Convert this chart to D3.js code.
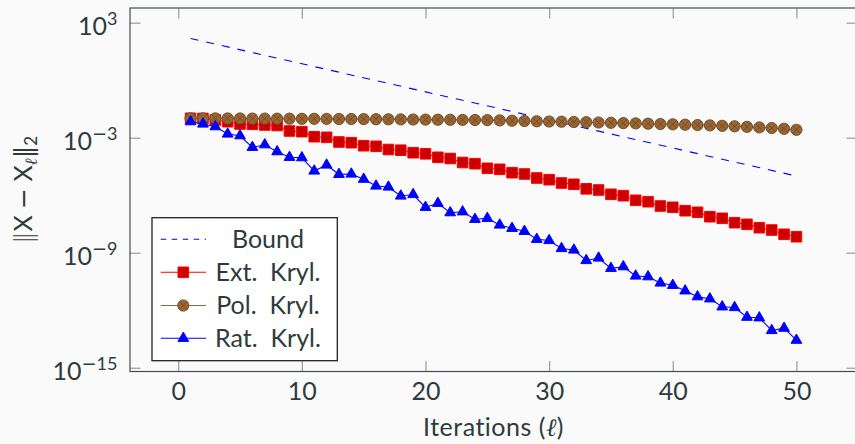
<!DOCTYPE html>
<html><head><meta charset="utf-8">
<script src="https://cdn.jsdelivr.net/npm/d3@7"></script>
<style>
html,body{margin:0;padding:0;background:#fafafa;}
svg{display:block;}
text{font-family:Lato,"Noto Sans",sans-serif;fill:#2e3b3b;}
</style></head><body>
<svg id="chart" width="855" height="444"></svg>
<script>
const iterations = [1,2,3,4,5,6,7,8,9,10,11,12,13,14,15,16,17,18,19,20,21,22,23,24,25,
  26,27,28,29,30,31,32,33,34,35,36,37,38,39,40,41,42,43,44,45,46,47,48,49,50];
const extKryl = [1.03e-2,1.01e-2,8.40e-3,6.85e-3,5.19e-3,5.01e-3,4.61e-3,4.34e-3,2.24e-3,2.06e-3,
  1.13e-3,1.05e-3,5.98e-4,5.50e-4,3.83e-4,3.57e-4,2.43e-4,2.23e-4,1.65e-4,1.45e-4,
  9.52e-5,8.24e-5,5.10e-5,4.41e-5,2.54e-5,2.25e-5,1.50e-5,1.28e-5,7.92e-6,6.46e-6,
  4.34e-6,3.72e-6,2.16e-6,1.87e-6,1.12e-6,9.45e-7,5.44e-7,4.60e-7,2.74e-7,2.35e-7,
  1.56e-7,1.29e-7,7.59e-8,6.26e-8,3.69e-8,3.04e-8,2.02e-8,1.53e-8,9.16e-9,6.86e-9];
const polKryl = [1.03e-2,1.02e-2,1.02e-2,1.01e-2,1.01e-2,9.94e-3,9.94e-3,9.82e-3,9.82e-3,9.70e-3,
  9.70e-3,9.59e-3,9.47e-3,9.47e-3,9.36e-3,9.25e-3,9.14e-3,9.03e-3,8.92e-3,8.81e-3,
  8.71e-3,8.60e-3,8.50e-3,8.40e-3,8.30e-3,8.01e-3,7.73e-3,7.45e-3,7.19e-3,7.02e-3,
  6.85e-3,6.61e-3,6.45e-3,6.22e-3,6.00e-3,5.79e-3,5.58e-3,5.38e-3,5.19e-3,5.01e-3,
  4.78e-3,4.61e-3,4.39e-3,4.18e-3,3.94e-3,3.71e-3,3.45e-3,3.21e-3,2.92e-3,2.59e-3];
const ratKryl = [6.85e-3,5.19e-3,3.76e-3,1.56e-3,1.27e-3,3.16e-4,4.32e-4,1.87e-4,9.52e-5,9.07e-5,
  1.84e-5,3.77e-5,1.23e-5,1.28e-5,6.86e-6,3.03e-6,2.69e-6,9.12e-7,1.09e-6,2.35e-7,
  3.79e-7,1.23e-7,1.37e-7,5.55e-8,6.26e-8,2.80e-8,1.88e-8,1.31e-8,5.02e-9,4.35e-9,
  1.66e-9,1.39e-9,3.94e-10,5.31e-10,1.54e-10,1.87e-10,6.12e-11,5.62e-11,2.64e-11,2.00e-11,
  1.03e-11,5.09e-12,3.96e-12,1.51e-12,1.39e-12,4.34e-13,4.04e-13,8.78e-14,1.16e-13,2.74e-14];
const boundIter = [1, 50];
const boundVals = [1.5e2, 1.0e-5];
const xTickValues = [0,10,20,30,40,50];
const yTickValues = [1e3,1e-3,1e-9,1e-15];
const yTickExponents = ["3","-3","-9","-15"];
const legendNames = ["Bound","Ext.\u00a0 Kryl.","Pol.\u00a0 Kryl.","Rat.\u00a0 Kryl."];

const svg = d3.select("#chart");
const L = 130, R = 857, T = 8, B = 371.5;
const x = d3.scaleLinear().domain([-3.9, 54.9]).range([L, R]);
const y = d3.scaleLog().domain([Math.pow(10,-15.195), Math.pow(10,3.767)]).range([B, T]);

const tickColor = "#a3a3a3", frameColor = "#414c4c";

const gB = svg.append("g").attr("transform",`translate(0,${B})`)
  .call(d3.axisBottom(x).tickValues(xTickValues).tickSize(-10.5).tickPadding(10).tickFormat(d3.format("d")));
const gT = svg.append("g").attr("transform",`translate(0,${T})`)
  .call(d3.axisTop(x).tickValues(xTickValues).tickSize(-10.5).tickFormat(""));
const gL = svg.append("g").attr("transform",`translate(${L},0)`)
  .call(d3.axisLeft(y).tickValues(yTickValues).tickSize(-10.5).tickPadding(12.5));
const gR = svg.append("g").attr("transform",`translate(${R},0)`)
  .call(d3.axisRight(y).tickValues(yTickValues).tickSize(-10.5).tickFormat(""));
[gB,gT,gL,gR].forEach(g=>{
  g.select(".domain").remove();
  g.selectAll(".tick line").attr("stroke",tickColor).attr("stroke-width",1.3);
  g.selectAll("text").attr("font-size",25).attr("font-family",null).attr("fill","#2e3b3b");
});
gB.selectAll(".tick text").attr("dy",null).attr("y",28);
gL.selectAll(".tick text").each(function(d){
  const t = d3.select(this).text(null).attr("dy",null).attr("y",12).attr("text-anchor","end").attr("x",-12.5);
  t.append("tspan").text("10");
  const e = yTickExponents[yTickValues.indexOf(d)];
  if (e[0] === "-") {
    t.append("tspan").attr("font-size",18).attr("dy",-10).attr("font-family","DejaVu Sans").text("\u2212");
    t.append("tspan").attr("font-size",18).text(e.slice(1));
  } else {
    t.append("tspan").attr("font-size",18).attr("dy",-10).text(e);
  }
});

svg.append("rect").attr("x",L).attr("y",T).attr("width",R-L).attr("height",B-T)
  .attr("fill","none").attr("stroke",frameColor).attr("stroke-width",1.2);

svg.append("text").attr("x",(L+R)/2).attr("y",436).attr("text-anchor","middle")
  .attr("font-size",25).attr("letter-spacing",0.5)
  .html('Iterations (<tspan font-style="italic" font-family="DejaVu Serif">\u2113</tspan>)');
const yl = svg.append("text").attr("transform","translate(32,190) rotate(-90)")
  .attr("text-anchor","middle").attr("font-size",25);
yl.append("tspan").attr("font-family","DejaVu Sans").attr("font-weight",300).text("\u2016");
yl.append("tspan").text("X ");
yl.append("tspan").attr("font-family","DejaVu Sans").text("\u2212");
yl.append("tspan").text(" X");
yl.append("tspan").attr("font-size",17).attr("dy",5).attr("font-style","italic").attr("font-family","DejaVu Serif").text("\u2113");
yl.append("tspan").attr("dy",-5).attr("font-family","DejaVu Sans").text("\u2016");
yl.append("tspan").attr("font-size",17).attr("dy",5).text("2");

const plot = svg.append("g");
plot.append("path").datum(boundIter.map((d,i)=>[d,boundVals[i]]))
  .attr("d", d3.line().x(d=>x(d[0])).y(d=>y(d[1])))
  .attr("fill","none").attr("stroke","#0000ff").attr("stroke-width",1.1).attr("stroke-dasharray","8,8");

const lineGen = d3.line().x(d=>x(d[0])).y(d=>y(d[1]));
const sq = d3.symbol().type(d3.symbolSquare).size(112)();
const tri = d3.symbol().type(d3.symbolTriangle).size(50)();
function drawSquare(g,cx,cy){
  g.append("path").attr("d",sq).attr("transform",`translate(${cx},${cy})`)
   .attr("fill","#cc0000").attr("stroke","#ff0000").attr("stroke-width",1);
}
function drawOtimes(g,cx,cy){
  const r=5.6, k=r*Math.SQRT1_2;
  const m = g.append("g").attr("transform",`translate(${cx},${cy})`);
  m.append("circle").attr("r",r).attr("fill","#996633").attr("stroke","#734d26").attr("stroke-width",1);
  m.append("path").attr("d",`M${-k},${-k}L${k},${k}M${-k},${k}L${k},${-k}`).attr("stroke","#734d26").attr("stroke-width",1);
}
function drawTri(g,cx,cy){
  g.append("path").attr("d",tri).attr("transform",`translate(${cx},${cy})`)
   .attr("fill","#0000ff").attr("stroke","#0000ff").attr("stroke-width",1);
}
const series = [
  {vals:extKryl, color:"#ff0000", mark:drawSquare},
  {vals:polKryl, color:"#734d26", mark:drawOtimes},
  {vals:ratKryl, color:"#0000ff", mark:drawTri}
];
series.forEach(s=>{
  const pts = iterations.map((d,i)=>[d,s.vals[i]]);
  plot.append("path").datum(pts).attr("d",lineGen).attr("fill","none")
    .attr("stroke",s.color).attr("stroke-width",1.1);
  const mg = plot.append("g");
  pts.forEach(p=>s.mark(mg,x(p[0]),y(p[1])));
});

const lg = svg.append("g");
lg.append("rect").attr("x",152).attr("y",217.7).attr("width",185.3).attr("height",143)
  .attr("fill","#ffffff").attr("stroke","#1e2222").attr("stroke-width",1.3);
const rowY = [239.3,272.3,305.5,338.3];
const legColors = ["#0000ff","#ff0000","#8a6a4a","#0000ff"];
const legMarks = [null, drawSquare, drawOtimes, drawTri];
legendNames.forEach((name,i)=>{
  const ln = lg.append("line").attr("x1",160.7).attr("x2",206).attr("y1",rowY[i]).attr("y2",rowY[i])
    .attr("stroke",legColors[i]).attr("stroke-width",1.1);
  if(i===0) ln.attr("stroke-dasharray","5.5,5.5");
  if(legMarks[i]) legMarks[i](lg,183.3,rowY[i]);
  lg.append("text").attr("x",268).attr("y",rowY[i]+8.5).attr("text-anchor","middle")
    .attr("font-size",25).text(name);
});
</script>
</body></html>
